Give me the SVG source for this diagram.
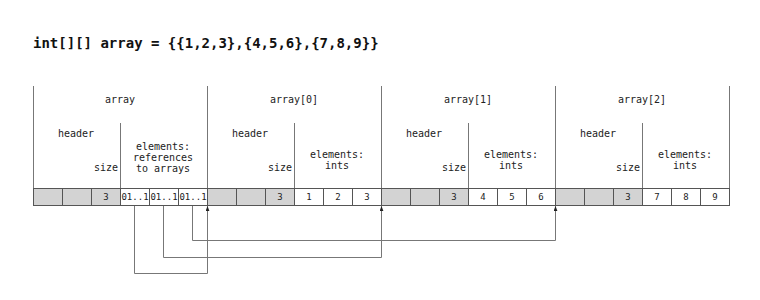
<svg xmlns="http://www.w3.org/2000/svg" width="760" height="300" viewBox="0 0 760 300">
  <style>
    .title { font-family: "DejaVu Sans Mono", "Liberation Mono", monospace; font-size: 14px; font-weight: bold; fill: #111; }
    .lbl { font-family: "DejaVu Sans Mono", "Liberation Mono", monospace; font-size: 10px; fill: #222; text-anchor: middle; }
    .lbl-r { font-family: "DejaVu Sans Mono", "Liberation Mono", monospace; font-size: 10px; fill: #222; text-anchor: end; }
    .cell-t { font-family: "DejaVu Sans Mono", "Liberation Mono", monospace; font-size: 9px; fill: #222; text-anchor: middle; }
    .edge { stroke: #777; stroke-width: 1; fill: none; }
    .hdr { fill: #d3d3d3; stroke: #555; stroke-width: 1; }
    .elm { fill: #fff; stroke: #555; stroke-width: 1; }
    .conn { stroke: #777; stroke-width: 1; fill: none; marker-end: url(#tip); }
  </style>
  <defs>
    <marker id="tip" viewBox="0 0 8 6" refX="8" refY="3" markerWidth="5" markerHeight="4" orient="auto" markerUnits="userSpaceOnUse">
      <path d="M0,0 L8,3 L0,6 Z" fill="#222"/>
    </marker>
  </defs>

  <rect width="760" height="300" fill="#fff"/>

  <text class="title" x="33" y="48">int[][] array = {{1,2,3},{4,5,6},{7,8,9}}</text>

  <!-- outer array: header + three references -->
  <g id="array">
    <line class="edge" x1="33.5" y1="86" x2="33.5" y2="188"/>
    <line class="edge" x1="120.5" y1="123" x2="120.5" y2="188"/>
    <text class="lbl" x="120" y="103">array</text>
    <text class="lbl" x="76" y="137">header</text>
    <text class="lbl-r" x="118" y="171">size</text>
    <text class="lbl" x="163" y="150">elements:</text>
    <text class="lbl" x="163" y="161">references</text>
    <text class="lbl" x="163" y="172">to arrays</text>
    <rect class="hdr" x="33.5" y="188.5" width="29" height="17"/>
    <rect class="hdr" x="62.5" y="188.5" width="29" height="17"/>
    <rect class="hdr" x="91.5" y="188.5" width="29" height="17"/>
    <rect class="elm" x="120.5" y="188.5" width="29" height="17"/>
    <rect class="elm" x="149.5" y="188.5" width="29" height="17"/>
    <rect class="elm" x="178.5" y="188.5" width="29" height="17"/>
    <text class="cell-t" x="106" y="200">3</text>
    <text class="cell-t" x="135" y="200">01..1</text>
    <text class="cell-t" x="164" y="200">01..1</text>
    <text class="cell-t" x="193" y="200">01..1</text>
  </g>

  <g id="array0">
    <line class="edge" x1="207.5" y1="86" x2="207.5" y2="188"/>
    <line class="edge" x1="294.5" y1="123" x2="294.5" y2="188"/>
    <text class="lbl" x="294" y="103">array[0]</text>
    <text class="lbl" x="250" y="137">header</text>
    <text class="lbl-r" x="292" y="171">size</text>
    <text class="lbl" x="337" y="158">elements:</text>
    <text class="lbl" x="337" y="169">ints</text>
    <rect class="hdr" x="207.5" y="188.5" width="29" height="17"/>
    <rect class="hdr" x="236.5" y="188.5" width="29" height="17"/>
    <rect class="hdr" x="265.5" y="188.5" width="29" height="17"/>
    <rect class="elm" x="294.5" y="188.5" width="29" height="17"/>
    <rect class="elm" x="323.5" y="188.5" width="29" height="17"/>
    <rect class="elm" x="352.5" y="188.5" width="29" height="17"/>
    <text class="cell-t" x="280" y="200">3</text>
    <text class="cell-t" x="309" y="200">1</text>
    <text class="cell-t" x="338" y="200">2</text>
    <text class="cell-t" x="367" y="200">3</text>
  </g>

  <g id="array1">
    <line class="edge" x1="381.5" y1="86" x2="381.5" y2="188"/>
    <line class="edge" x1="468.5" y1="123" x2="468.5" y2="188"/>
    <text class="lbl" x="468" y="103">array[1]</text>
    <text class="lbl" x="424" y="137">header</text>
    <text class="lbl-r" x="466" y="171">size</text>
    <text class="lbl" x="511" y="158">elements:</text>
    <text class="lbl" x="511" y="169">ints</text>
    <rect class="hdr" x="381.5" y="188.5" width="29" height="17"/>
    <rect class="hdr" x="410.5" y="188.5" width="29" height="17"/>
    <rect class="hdr" x="439.5" y="188.5" width="29" height="17"/>
    <rect class="elm" x="468.5" y="188.5" width="29" height="17"/>
    <rect class="elm" x="497.5" y="188.5" width="29" height="17"/>
    <rect class="elm" x="526.5" y="188.5" width="29" height="17"/>
    <text class="cell-t" x="454" y="200">3</text>
    <text class="cell-t" x="483" y="200">4</text>
    <text class="cell-t" x="512" y="200">5</text>
    <text class="cell-t" x="541" y="200">6</text>
  </g>

  <g id="array2">
    <line class="edge" x1="555.5" y1="86" x2="555.5" y2="188"/>
    <line class="edge" x1="642.5" y1="123" x2="642.5" y2="188"/>
    <line class="edge" x1="729.5" y1="86" x2="729.5" y2="188"/>
    <text class="lbl" x="642" y="103">array[2]</text>
    <text class="lbl" x="598" y="137">header</text>
    <text class="lbl-r" x="640" y="171">size</text>
    <text class="lbl" x="685" y="158">elements:</text>
    <text class="lbl" x="685" y="169">ints</text>
    <rect class="hdr" x="555.5" y="188.5" width="29" height="17"/>
    <rect class="hdr" x="584.5" y="188.5" width="29" height="17"/>
    <rect class="hdr" x="613.5" y="188.5" width="29" height="17"/>
    <rect class="elm" x="642.5" y="188.5" width="29" height="17"/>
    <rect class="elm" x="671.5" y="188.5" width="29" height="17"/>
    <rect class="elm" x="700.5" y="188.5" width="29" height="17"/>
    <text class="cell-t" x="628" y="200">3</text>
    <text class="cell-t" x="657" y="200">7</text>
    <text class="cell-t" x="686" y="200">8</text>
    <text class="cell-t" x="715" y="200">9</text>
  </g>

  <!-- references from the outer array to each inner array -->
  <g id="connectors">
    <path class="conn" d="M134.5,206 V273.5 H207.5 V206"/>
    <path class="conn" d="M163.5,206 V257.5 H381.5 V206"/>
    <path class="conn" d="M192.5,206 V240.5 H555.5 V206"/>
  </g>
</svg>
